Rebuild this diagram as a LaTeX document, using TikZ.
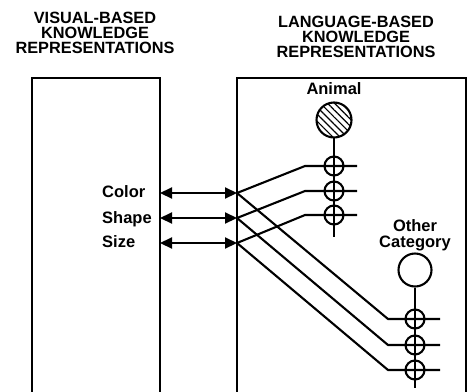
\documentclass[tikz,border=0pt]{standalone}
\usepackage{fontspec}
\setmainfont{Liberation Sans}
\usetikzlibrary{arrows.meta,patterns.meta}
\begin{document}
\begin{tikzpicture}[x=1pt,y=-1pt,
  frame/.style={line width=2.5pt},
  wire/.style={line width=2.1pt},
  heading/.style={font=\bfseries\fontsize{16.3}{15}\selectfont, align=center, inner sep=0, anchor=north},
  lbl/.style={font=\bfseries\fontsize{16.5}{16}\selectfont, inner sep=0},
  concept/.style={circle, draw, line width=2.1pt, inner sep=0, minimum size=#1},
  crossing/.style={circle, draw, line width=2.1pt, inner sep=0, minimum size=19pt},
  link/.style={line width=2.1pt, {Triangle[length=12pt,width=11pt]}-{Triangle[length=12pt,width=11pt]}}]
\useasboundingbox (0,0) rectangle (470,391);

% headings
\node[heading] (hv) at (95,11.7) {VISUAL-BASED\\KNOWLEDGE\\REPRESENTATIONS};
\node[heading] (hl) at (356,15.5) {LANGUAGE-BASED\\KNOWLEDGE\\REPRESENTATIONS};

% open-bottomed frames
\draw[frame] (32,393) -- (32,78) -- (160,78) -- (160,393);
\draw[frame] (237,393) -- (237,78) -- (466,78) -- (466,393);

% attribute ports on both frames
\foreach \i/\y in {1/193,2/218,3/243} {
  \coordinate (v\i) at (160,\y);
  \coordinate (c\i) at (237,\y);
}

% attribute labels
\node[lbl, anchor=base west] (lcolor) at (102,197.5) {Color};
\node[lbl, anchor=base west] (lshape) at (102,223) {Shape};
\node[lbl, anchor=base west] (lsize) at (102,247.5) {Size};

% double-headed links between the two representations
\foreach \i in {1,2,3} \draw[link] (v\i) -- (c\i);

% Animal concept
\node[lbl, anchor=base] (tanimal) at (334,94.5) {Animal};
\node[concept=35pt, pattern={Lines[angle=-45,distance=5pt,line width=1.2pt]}] (animal) at (334,120) {};
\coordinate (aend) at (334,237);
\draw[wire] (animal.south) -- (aend);
\foreach \i/\y in {1/166,2/191,3/215} {
  \coordinate (aw\i) at (305,\y);
  \coordinate (ae\i) at (357,\y);
  \node[crossing] (ax\i) at (334,\y) {};
}

% Other Category concept
\node[lbl, align=center, anchor=south] (tother) at (415,251.5) {Other\\Category};
\node[concept=33pt] (other) at (415,270) {};
\coordinate (oend) at (415,388);
\draw[wire] (other.south) -- (oend);
\foreach \i/\y in {1/319,2/345,3/370} {
  \coordinate (ow\i) at (388,\y);
  \coordinate (oe\i) at (440,\y);
  \node[crossing] (ox\i) at (415,\y) {};
}

% attribute wires fanning out to both concepts
\foreach \i in {1,2,3} {
  \draw[wire] (c\i) -- (aw\i) -- (ae\i);
  \draw[wire] (c\i) -- (ow\i) -- (oe\i);
}
\end{tikzpicture}
\end{document}
